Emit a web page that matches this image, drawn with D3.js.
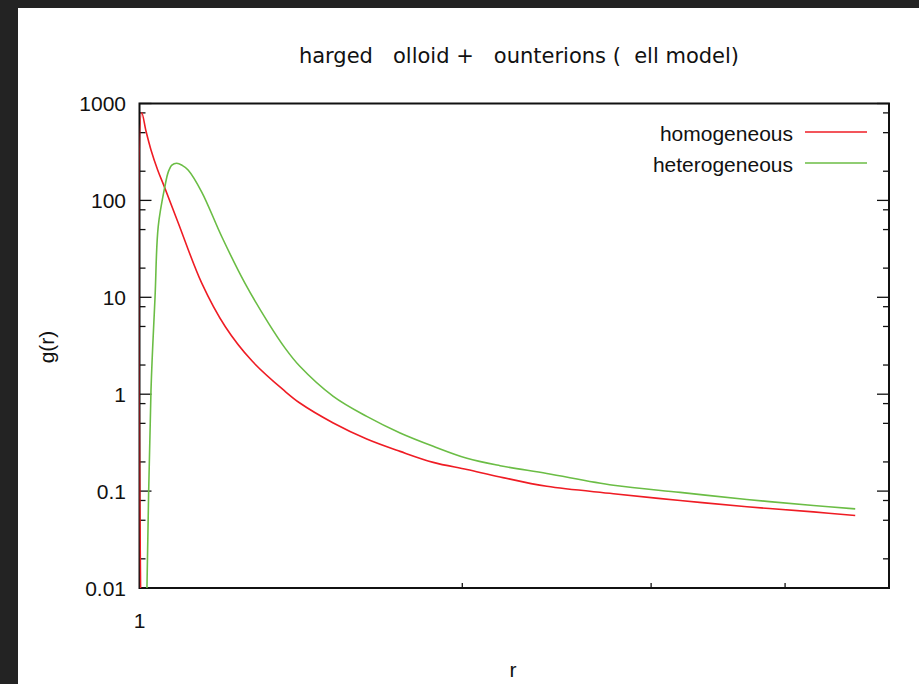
<!DOCTYPE html>
<html lang="en">
<head>
	<meta charset="UTF-8">
	<title>g(r)</title>
	<script src="https://cdn.jsdelivr.net/npm/d3@7"></script>
	<style>
	*{margin:0; padding:0;}
	body{background:#232323;}
	text{font-family:"Liberation Sans", Arial, sans-serif; font-size:21px; fill:#111;}
	.title{font-family:"DejaVu Sans", sans-serif; font-size:21px; white-space:pre;}
	</style>
</head>
<body>
<script>
// data
var rHom = [1.0045, 1.0048, 1.014, 1.025, 1.040, 1.056, 1.087, 1.143, 1.202, 1.273, 1.367, 1.411, 1.516, 1.629, 1.750, 1.879, 2.020, 2.169, 2.398, 2.767, 3.193, 3.685, 4.251, 4.650];
var gHom = [0.001, 804, 520, 332, 205, 134, 58.2, 14.0, 5.0, 2.21, 1.07, 0.811, 0.505, 0.345, 0.257, 0.198, 0.167, 0.140, 0.112, 0.094, 0.080, 0.069, 0.061, 0.056];

var rHet = [1.015, 1.025, 1.034, 1.041, 1.056, 1.064, 1.072, 1.083, 1.096, 1.110, 1.143, 1.193, 1.254, 1.319, 1.367, 1.411, 1.516, 1.629, 1.750, 1.879, 2.020, 2.169, 2.398, 2.767, 3.193, 3.685, 4.251, 4.650];
var gHet = [0.005, 1.1, 10.2, 53.7, 139, 198, 231, 242, 230, 206, 122, 42.4, 14.0, 5.42, 2.99, 1.94, 0.95, 0.59, 0.398, 0.290, 0.218, 0.183, 0.152, 0.115, 0.097, 0.082, 0.071, 0.0655];

var seriesNames = ["homogeneous", "heterogeneous"];
var seriesColors = ["#ef1c24", "#6bbd45"];
var yTickValues = [0.01, 0.1, 1, 10, 100, 1000];
var yTickLabels = ["0.01", "0.1", "1", "10", "100", "1000"];
var xMinorTicks = [2, 3, 4];
var titleText = "harged   olloid +   ounterions (  ell model)";

var width = 919, height = 684;
var pl = 139.5, pr = 889, pt = 103.5, pb = 588;

var svg = d3.select("body").append("svg")
	.attr("width", width)
	.attr("height", height)
	.style("display", "block");

svg.append("rect")
	.attr("x", 18).attr("y", 8)
	.attr("width", width - 18).attr("height", height - 8)
	.attr("fill", "white");

var x = d3.scaleLog().domain([1, 5]).range([pl, pr]);
var y = d3.scaleLog().domain([0.01, 1000]).range([pb, pt]);

// y ticks: majors every decade, minors at 2, 5, 8
var minors = [];
for (var e = -2; e < 3; e++) {
	[2, 5, 8].forEach(function(m){ minors.push(m * Math.pow(10, e)); });
}

var ticks = svg.append("g").attr("stroke", "#111").attr("stroke-width", 1.3);
function drawYTicks(vals, len) {
	ticks.selectAll(null).data(vals).enter().append("line")
		.attr("x1", pl).attr("x2", pl + len)
		.attr("y1", function(d){ return y(d); }).attr("y2", function(d){ return y(d); });
	ticks.selectAll(null).data(vals).enter().append("line")
		.attr("x1", pr).attr("x2", pr - len)
		.attr("y1", function(d){ return y(d); }).attr("y2", function(d){ return y(d); });
}
drawYTicks(yTickValues, 12);
drawYTicks(minors, 6);
ticks.selectAll(null).data(xMinorTicks).enter().append("line")
	.attr("x1", function(d){ return x(d); }).attr("x2", function(d){ return x(d); })
	.attr("y1", pb).attr("y2", pb - 5);

svg.append("g").selectAll("text")
	.data(yTickValues).enter().append("text")
	.attr("x", 126)
	.attr("y", function(d){ return y(d); })
	.attr("dy", "0.36em")
	.attr("text-anchor", "end")
	.text(function(d, i){ return yTickLabels[i]; });

svg.append("text")
	.attr("x", x(1)).attr("y", 628)
	.attr("text-anchor", "middle")
	.text("1");

// frame first, curves drawn over it (as in the reference)
svg.append("rect")
	.attr("x", pl).attr("y", pt)
	.attr("width", pr - pl).attr("height", pb - pt)
	.attr("fill", "none")
	.attr("stroke", "#111")
	.attr("stroke-width", 2);

svg.append("clipPath").attr("id", "plot")
	.append("rect")
	.attr("x", pl).attr("y", pt)
	.attr("width", pr - pl).attr("height", pb - pt);

var line = d3.line()
	.x(function(d){ return x(d[0]); })
	.y(function(d){ return y(d[1]); })
	.curve(d3.curveCatmullRom.alpha(0.5));

var series = [d3.zip(rHom, gHom), d3.zip(rHet, gHet)];
svg.append("g").attr("clip-path", "url(#plot)")
	.selectAll("path").data(series).enter().append("path")
	.attr("d", line)
	.attr("fill", "none")
	.attr("stroke", function(d, i){ return seriesColors[i]; })
	.attr("stroke-width", 1.6);

// legend
var legend = svg.append("g");
seriesNames.forEach(function(name, i){
	var ly = 133 + i * 31;
	legend.append("text")
		.attr("x", 793).attr("y", ly)
		.attr("dy", "0.36em")
		.attr("text-anchor", "end")
		.text(name);
	legend.append("line")
		.attr("x1", 805).attr("x2", 867)
		.attr("y1", ly - 1).attr("y2", ly - 1)
		.attr("stroke", seriesColors[i])
		.attr("stroke-width", 1.5);
});

// titles
svg.append("text")
	.attr("class", "title")
	.attr("x", 519).attr("y", 63)
	.attr("text-anchor", "middle")
	.text(titleText);

svg.append("text")
	.attr("x", 513).attr("y", 677)
	.attr("text-anchor", "middle")
	.text("r");

svg.append("text")
	.attr("transform", "translate(46,347) rotate(-90)")
	.attr("dy", "0.36em")
	.attr("text-anchor", "middle")
	.text("g(r)");
</script>
</body>
</html>
